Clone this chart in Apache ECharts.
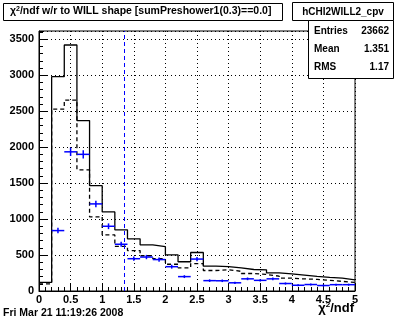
<!DOCTYPE html>
<html><head><meta charset="utf-8">
<script src="https://cdn.jsdelivr.net/npm/echarts@6/dist/echarts.min.js"></script>
<style>html,body{margin:0;padding:0;background:#fff}#c{width:396px;height:322px}</style>
</head><body><div id="c"></div>
<script>
// bin lower edges (width 0.2)
const binLow = [0,0.2,0.4,0.6,0.8,1.0,1.2,1.4,1.6,1.8,2.0,2.2,2.4,2.6,2.8,3.0,3.2,3.4,3.6,3.8,4.0,4.2,4.4,4.6,4.8];
const binWidth = 0.2;
const solidVals = [120,2980,3420,2370,1465,1100,850,725,642,616,503,407,535,345,340,322,299,294,252,237,222,204,190,178,156];
const dashedVals = [100,2530,2655,1685,1032,780,620,562,490,450,372,322,380,285,296,273,243,230,206,178,168,162,148,134,120];
const blueVals = [null,840,1935,1900,1211,900,650,449,472,437,338,200,444,144,142,114,169,148,169,104,80,90,76,88,88];
const blueErr  = [0,38,58,57,45,40,35,30,30,30,27,20,30,18,18,16,19,17,19,15,13,14,13,14,14];
const meanVal = 1.351;
const yTickLabels = ['0','500','1000','1500','2000','2500','3000','3500'];
const xTickLabels = ['0','0.5','1','1.5','2','2.5','3','3.5','4','4.5','5'];
const titleText = 'w/r to WILL shape [sumPreshower1(0.3)==0.0]';
const statName = 'hCHI2WILL2_cpv';
const statRows = [['Entries','23662'],['Mean','1.351'],['RMS','1.17']];
const dateText = 'Fri Mar 21 11:19:26 2008';

function stepData(vals){
  const d = binLow.map((x,i)=>[x, vals[i]]);
  d.push([binLow[binLow.length-1]+binWidth, vals[vals.length-1]]);
  return d;
}
const FONT = '"Liberation Sans", Arial, sans-serif';
const chart = echarts.init(document.getElementById('c'), null, {renderer:'canvas'});
const blueData = binLow.map((x,i)=>[x, x+binWidth, blueVals[i], blueErr[i]]).filter(d=>d[2]!=null);

const statGraphics = [];
statRows.forEach((r,i)=>{
  statGraphics.push({type:'text', left:314, top:26+i*18, style:{text:r[0], font:'bold 10px '+FONT, fill:'#000'}});
  statGraphics.push({type:'text', right:7, top:26+i*18, style:{text:r[1], font:'bold 10px '+FONT, fill:'#000', textAlign:'right'}});
});

chart.setOption({
  animation:false,
  backgroundColor:'#fff',
  grid:{left:39, top:31, width:316, height:260, show:true, borderColor:'#000', borderWidth:1, backgroundColor:'transparent'},
  xAxis:{type:'value', min:0, max:5, interval:0.5,
    axisLine:{show:true, lineStyle:{color:'#000', width:1}},
    axisTick:{show:true, inside:true, length:8, lineStyle:{color:'#000'}},
    minorTick:{show:true, splitNumber:5, length:4, lineStyle:{color:'#000'}},
    splitLine:{show:true, lineStyle:{color:'#000', type:[1,3], width:1}},
    axisLabel:{color:'#000', fontWeight:'bold', fontSize:11, fontFamily:FONT, margin:3,
      formatter:(v)=>{const s=String(Math.round(v*10)/10); return xTickLabels.includes(s)?s:'';}}
  },
  yAxis:[{type:'value', min:0, max:3615, interval:500,
    axisLine:{show:true, lineStyle:{color:'#000', width:1}},
    axisTick:{show:true, inside:true, length:8, lineStyle:{color:'#000'}},
    splitLine:{show:true, lineStyle:{color:'#000', type:[1,3], width:1}},
    axisLabel:{color:'#000', fontWeight:'bold', fontSize:11, fontFamily:FONT, margin:5, showMaxLabel:false,
      formatter:(v)=>{const s=String(v); return yTickLabels.includes(s)?s:'';}}
  },{type:'value', min:0, max:3615, interval:100, position:'left',
    axisLine:{show:false}, axisLabel:{show:false}, splitLine:{show:false},
    axisTick:{show:true, inside:true, length:4, lineStyle:{color:'#000'}}
  }],
  series:[
    {type:'line', step:'end', data:stepData(solidVals), symbol:'none', lineStyle:{color:'#000', width:1.3}, z:3,
     markLine:{silent:true, symbol:'none', label:{show:false}, lineStyle:{color:'#0000ff', type:[4,3], width:1}, data:[{xAxis:meanVal}]}},
    {type:'line', step:'end', data:stepData(dashedVals), symbol:'none', lineStyle:{color:'#000', width:1.3, type:[4,3]}, z:3},
    {type:'custom', data:blueData, z:4,
     renderItem:(params, api)=>{
       const x0=api.value(0), x1=api.value(1), y=api.value(2), e=api.value(3);
       const pL=api.coord([x0,y]), pR=api.coord([x1,y]);
       const xc=(x0+x1)/2;
       const pT=api.coord([xc,y+e]), pB=api.coord([xc,y-e]);
       const st={stroke:'#0000ff', lineWidth:1.5};
       return {type:'group', children:[
         {type:'line', shape:{x1:pL[0],y1:pL[1],x2:pR[0],y2:pR[1]}, style:st},
         {type:'line', shape:{x1:pT[0],y1:pT[1],x2:pB[0],y2:pB[1]}, style:st}
       ]};
     }}
  ],
  graphic:[
    {type:'rect', shape:{x:3.5,y:3.5,width:279,height:17}, style:{fill:'#fff', stroke:'#000', lineWidth:1}},
    {type:'text', left:10, top:5.5, style:{rich:{b:{font:'bold 10.5px '+FONT}, s:{font:'bold 7px '+FONT, verticalAlign:'top', padding:[0,0,5,0]}}, text:'{b|χ}{s|2}{b|/ndf '+titleText+'}', fill:'#000'}},
    {type:'rect', shape:{x:292.5,y:2.5,width:101,height:18}, style:{fill:'#fff', stroke:'#000', lineWidth:1}},
    {type:'text', x:343, y:12, style:{text:statName, font:'bold 10px '+FONT, fill:'#000', textAlign:'center', textVerticalAlign:'middle'}},
    {type:'rect', shape:{x:308.5,y:20.5,width:85,height:58}, style:{fill:'#fff', stroke:'#000', lineWidth:1}, z:10},
    ...statGraphics.map(g=>Object.assign(g,{z:11})),
    {type:'text', left:3, top:308, style:{text:dateText, font:'bold 10.5px '+FONT, fill:'#000'}},
    {type:'text', right:42, top:301, style:{rich:{b:{font:'bold 13px '+FONT}, s:{font:'bold 8px '+FONT, padding:[0,0,6,0]}}, text:'{b|χ}{s|2}{b|/ndf}', fill:'#000'}}
  ]
});
</script></body></html>
